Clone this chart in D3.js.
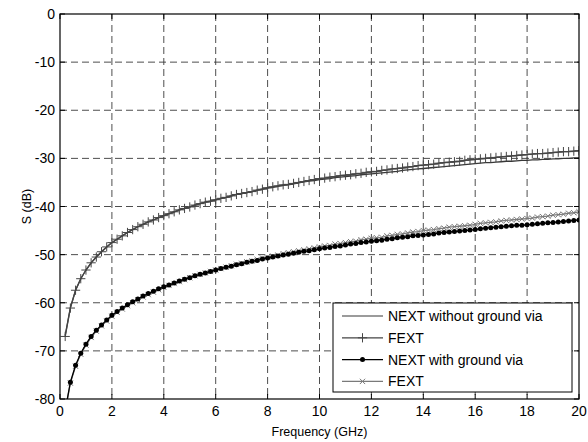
<!DOCTYPE html>
<html>
<head>
<meta charset="utf-8">
<script src="https://cdnjs.cloudflare.com/ajax/libs/d3/7.8.5/d3.min.js"></script>
<style>
  body { margin: 0; background: #fff; }
  svg { font-family: "Liberation Sans", Arial, sans-serif; }
</style>
</head>
<body>
<svg id="chart" width="588" height="442"></svg>
<script>
// Barrido de frecuencia (GHz)
const freqGHz = [
  0.2, 0.4, 0.6, 0.8, 1.0, 1.2, 1.4, 1.6, 1.8, 2.0,
  2.2, 2.4, 2.6, 2.8, 3.0, 3.2, 3.4, 3.6, 3.8, 4.0,
  4.2, 4.4, 4.6, 4.8, 5.0, 5.2, 5.4, 5.6, 5.8, 6.0,
  6.2, 6.4, 6.6, 6.8, 7.0, 7.2, 7.4, 7.6, 7.8, 8.0,
  8.2, 8.4, 8.6, 8.8, 9.0, 9.2, 9.4, 9.6, 9.8, 10.0,
  10.2, 10.4, 10.6, 10.8, 11.0, 11.2, 11.4, 11.6, 11.8, 12.0,
  12.2, 12.4, 12.6, 12.8, 13.0, 13.2, 13.4, 13.6, 13.8, 14.0,
  14.2, 14.4, 14.6, 14.8, 15.0, 15.2, 15.4, 15.6, 15.8, 16.0,
  16.2, 16.4, 16.6, 16.8, 17.0, 17.2, 17.4, 17.6, 17.8, 18.0,
  18.2, 18.4, 18.6, 18.8, 19.0, 19.2, 19.4, 19.6, 19.8, 20.0
];

// NEXT sin via a masa (dB)
const nextNoVia = [
  -66.8, -61.0, -57.4, -55.0, -53.2, -51.7, -50.5, -49.4, -48.4, -47.5,
  -46.8, -46.1, -45.4, -44.8, -44.2, -43.7, -43.2, -42.8, -42.3, -41.9,
  -41.5, -41.1, -40.7, -40.4, -40.1, -39.7, -39.4, -39.1, -38.9, -38.6,
  -38.3, -38.1, -37.8, -37.5, -37.3, -37.1, -36.9, -36.6, -36.4, -36.2,
  -36.0, -35.8, -35.6, -35.5, -35.3, -35.1, -34.9, -34.7, -34.6, -34.4,
  -34.3, -34.2, -34.0, -33.9, -33.8, -33.7, -33.6, -33.4, -33.3, -33.2,
  -33.1, -33.0, -32.9, -32.8, -32.7, -32.5, -32.4, -32.3, -32.2, -32.1,
  -32.0, -31.9, -31.8, -31.7, -31.6, -31.5, -31.4, -31.3, -31.2, -31.1,
  -31.0, -30.9, -30.9, -30.8, -30.7, -30.6, -30.6, -30.5, -30.4, -30.4,
  -30.3, -30.3, -30.2, -30.2, -30.1, -30.1, -30.0, -30.0, -29.9, -29.9
];

// FEXT sin via a masa (dB)
const fextNoVia = [
  -67.0, -61.1, -57.4, -55.0, -53.2, -51.7, -50.5, -49.4, -48.4, -47.5,
  -46.8, -46.1, -45.4, -44.8, -44.2, -43.7, -43.2, -42.8, -42.3, -41.9,
  -41.5, -41.1, -40.7, -40.4, -40.1, -39.7, -39.4, -39.1, -38.9, -38.6,
  -38.3, -38.1, -37.8, -37.5, -37.3, -37.1, -36.9, -36.6, -36.4, -36.1,
  -35.9, -35.7, -35.5, -35.4, -35.2, -35.0, -34.8, -34.6, -34.4, -34.2,
  -34.1, -33.9, -33.8, -33.6, -33.5, -33.4, -33.2, -33.1, -32.9, -32.8,
  -32.7, -32.5, -32.4, -32.2, -32.1, -32.0, -31.8, -31.7, -31.5, -31.4,
  -31.3, -31.2, -31.0, -30.9, -30.8, -30.7, -30.6, -30.4, -30.3, -30.2,
  -30.1, -30.0, -29.9, -29.8, -29.7, -29.6, -29.5, -29.4, -29.3, -29.2,
  -29.1, -29.0, -29.0, -28.9, -28.8, -28.7, -28.6, -28.6, -28.5, -28.4
];

// NEXT con via a masa (dB)
const nextVia = [
  -82.4, -76.5, -73.0, -70.5, -68.6, -67.0, -65.7, -64.6, -63.6, -62.6,
  -61.8, -61.1, -60.4, -59.8, -59.2, -58.6, -58.1, -57.6, -57.1, -56.7,
  -56.3, -55.9, -55.5, -55.1, -54.8, -54.4, -54.1, -53.8, -53.5, -53.2,
  -52.9, -52.6, -52.4, -52.1, -51.9, -51.6, -51.4, -51.2, -50.9, -50.7,
  -50.5, -50.3, -50.1, -49.9, -49.7, -49.5, -49.3, -49.2, -49.0, -48.8,
  -48.6, -48.5, -48.3, -48.2, -48.0, -47.8, -47.7, -47.5, -47.4, -47.2,
  -47.1, -47.0, -46.8, -46.7, -46.5, -46.4, -46.3, -46.1, -46.0, -45.9,
  -45.8, -45.7, -45.5, -45.4, -45.3, -45.2, -45.1, -45.0, -44.9, -44.8,
  -44.6, -44.5, -44.4, -44.3, -44.2, -44.1, -44.0, -43.9, -43.9, -43.8,
  -43.7, -43.6, -43.5, -43.4, -43.3, -43.2, -43.1, -43.0, -42.9, -42.8
];

// FEXT con via a masa (dB)
const fextVia = [
  -82.6, -76.7, -73.2, -70.7, -68.8, -67.2, -65.9, -64.8, -63.8, -62.8,
  -62.0, -61.3, -60.6, -60.0, -59.4, -58.8, -58.3, -57.8, -57.3, -56.8,
  -56.4, -56.0, -55.6, -55.2, -54.8, -54.4, -54.1, -53.8, -53.5, -53.2,
  -52.9, -52.6, -52.3, -52.0, -51.8, -51.5, -51.3, -51.0, -50.7, -50.5,
  -50.3, -50.1, -49.8, -49.6, -49.4, -49.2, -49.0, -48.8, -48.6, -48.4,
  -48.2, -48.1, -47.8, -47.7, -47.5, -47.3, -47.2, -46.9, -46.8, -46.6,
  -46.5, -46.4, -46.1, -46.0, -45.8, -45.7, -45.5, -45.3, -45.2, -45.0,
  -44.9, -44.8, -44.6, -44.5, -44.3, -44.2, -44.1, -44.0, -43.9, -43.7,
  -43.5, -43.4, -43.3, -43.2, -43.0, -42.9, -42.8, -42.7, -42.6, -42.5,
  -42.4, -42.2, -42.1, -42.0, -41.8, -41.7, -41.6, -41.4, -41.3, -41.1
];

const xTicks = [0, 2, 4, 6, 8, 10, 12, 14, 16, 18, 20];
const yTicks = [0, -10, -20, -30, -40, -50, -60, -70, -80];
const legendLabels = ["NEXT without ground via", "FEXT", "NEXT with ground via", "FEXT"];

const W = 588, H = 442;
const plot = { left: 60, right: 579, top: 14, bottom: 399 };

const svg = d3.select("#chart");

const x = d3.scaleLinear().domain([0, 20]).range([plot.left, plot.right]);
const y = d3.scaleLinear().domain([-80, 0]).range([plot.bottom, plot.top]);

// Estilos de cada serie (orden de leyenda); z = orden de dibujo
const series = [
  { label: legendLabels[0], values: nextNoVia, color: "#383838", marker: null, z: 0 },
  { label: legendLabels[1], values: fextNoVia, color: "#454545", marker: "plus", z: 1 },
  { label: legendLabels[2], values: nextVia, color: "#000000", marker: "dot", z: 3 },
  { label: legendLabels[3], values: fextVia, color: "#7a7a7a", marker: "times", z: 2 }
];

// Fondo
svg.append("rect").attr("width", W).attr("height", H).attr("fill", "#fff");

// Rejilla discontinua
const grid = svg.append("g").attr("stroke", "#3a3a3a").attr("stroke-width", 0.9)
  .attr("stroke-dasharray", "7,4");
grid.selectAll(".gx").data(xTicks.slice(1, -1)).enter().append("line")
  .attr("x1", d => x(d)).attr("x2", d => x(d))
  .attr("y1", plot.top).attr("y2", plot.bottom);
grid.selectAll(".gy").data(yTicks.slice(1, -1)).enter().append("line")
  .attr("y1", d => y(d)).attr("y2", d => y(d))
  .attr("x1", plot.left).attr("x2", plot.right);

svg.append("clipPath").attr("id", "clip")
  .append("rect")
  .attr("x", plot.left).attr("y", plot.top)
  .attr("width", plot.right - plot.left).attr("height", plot.bottom - plot.top);

const gData = svg.append("g").attr("clip-path", "url(#clip)");

const line = d3.line()
  .x((d, i) => x(freqGHz[i]))
  .y(d => y(d));

const plusSym = d3.symbol(d3.symbolPlus, 30);
const timesSym = d3.symbol(d3.symbolTimes, 20);

function drawMarkers(g, s, pts) {
  if (s.marker === "dot") {
    g.selectAll("circle").data(pts).enter().append("circle")
      .attr("cx", d => d[0]).attr("cy", d => d[1]).attr("r", 2.5)
      .attr("fill", s.color);
  } else if (s.marker) {
    const sym = s.marker === "plus" ? plusSym : timesSym;
    g.selectAll("path.mk").data(pts).enter().append("path")
      .attr("class", "mk")
      .attr("transform", d => `translate(${d[0]},${d[1]})`)
      .attr("d", sym)
      .attr("fill", "none").attr("stroke", s.color).attr("stroke-width", 1);
  }
}

series.slice().sort((a, b) => a.z - b.z).forEach(s => {
  const g = gData.append("g");
  g.append("path").datum(s.values)
    .attr("d", line)
    .attr("fill", "none")
    .attr("stroke", s.color)
    .attr("stroke-width", 1.3);
  const pts = s.values.map((v, i) => [x(freqGHz[i]), y(v)]);
  drawMarkers(g, s, pts);
});

// Marco y ticks hacia dentro (caja completa)
svg.append("rect")
  .attr("x", plot.left).attr("y", plot.top)
  .attr("width", plot.right - plot.left).attr("height", plot.bottom - plot.top)
  .attr("fill", "none").attr("stroke", "#000").attr("stroke-width", 1.2);

const tickLen = 5;
const ticks = svg.append("g").attr("stroke", "#000").attr("stroke-width", 1);
xTicks.forEach(t => {
  ticks.append("line").attr("x1", x(t)).attr("x2", x(t))
    .attr("y1", plot.bottom).attr("y2", plot.bottom - tickLen);
  ticks.append("line").attr("x1", x(t)).attr("x2", x(t))
    .attr("y1", plot.top).attr("y2", plot.top + tickLen);
});
yTicks.forEach(t => {
  ticks.append("line").attr("y1", y(t)).attr("y2", y(t))
    .attr("x1", plot.left).attr("x2", plot.left + tickLen);
  ticks.append("line").attr("y1", y(t)).attr("y2", y(t))
    .attr("x1", plot.right).attr("x2", plot.right - tickLen);
});

// Etiquetas de ticks
svg.append("g").selectAll("text").data(xTicks).enter().append("text")
  .attr("x", d => x(d)).attr("y", plot.bottom + 17)
  .attr("text-anchor", "middle").attr("font-size", 14).attr("fill", "#000")
  .text(d => String(d));

svg.append("g").selectAll("text").data(yTicks).enter().append("text")
  .attr("x", plot.left - 5).attr("y", d => y(d) + 5)
  .attr("text-anchor", "end").attr("font-size", 14).attr("fill", "#000")
  .text(d => String(d));

// Titulos de ejes
svg.append("text")
  .attr("x", (plot.left + plot.right) / 2).attr("y", 436)
  .attr("text-anchor", "middle").attr("font-size", 12.5)
  .text("Frequency (GHz)");

svg.append("text")
  .attr("transform", `translate(31,${(plot.top + plot.bottom) / 2}) rotate(-90)`)
  .attr("text-anchor", "middle").attr("font-size", 12.5)
  .text("S (dB)");

// Leyenda
const leg = { x: 333, y: 303, w: 239, h: 89 };
const gLeg = svg.append("g");
gLeg.append("rect")
  .attr("x", leg.x).attr("y", leg.y).attr("width", leg.w).attr("height", leg.h)
  .attr("fill", "#fff").attr("stroke", "#000").attr("stroke-width", 1);

series.forEach((s, i) => {
  const cy = leg.y + 13 + i * 21.8;
  const row = gLeg.append("g");
  row.append("line")
    .attr("x1", leg.x + 9).attr("x2", leg.x + 50)
    .attr("y1", cy).attr("y2", cy)
    .attr("stroke", s.color).attr("stroke-width", 1.2);
  drawMarkers(row, s, [[leg.x + 29.5, cy]]);
  row.append("text")
    .attr("x", leg.x + 55).attr("y", cy + 5)
    .attr("font-size", 14).attr("fill", "#000")
    .text(s.label);
});
</script>
</body>
</html>
